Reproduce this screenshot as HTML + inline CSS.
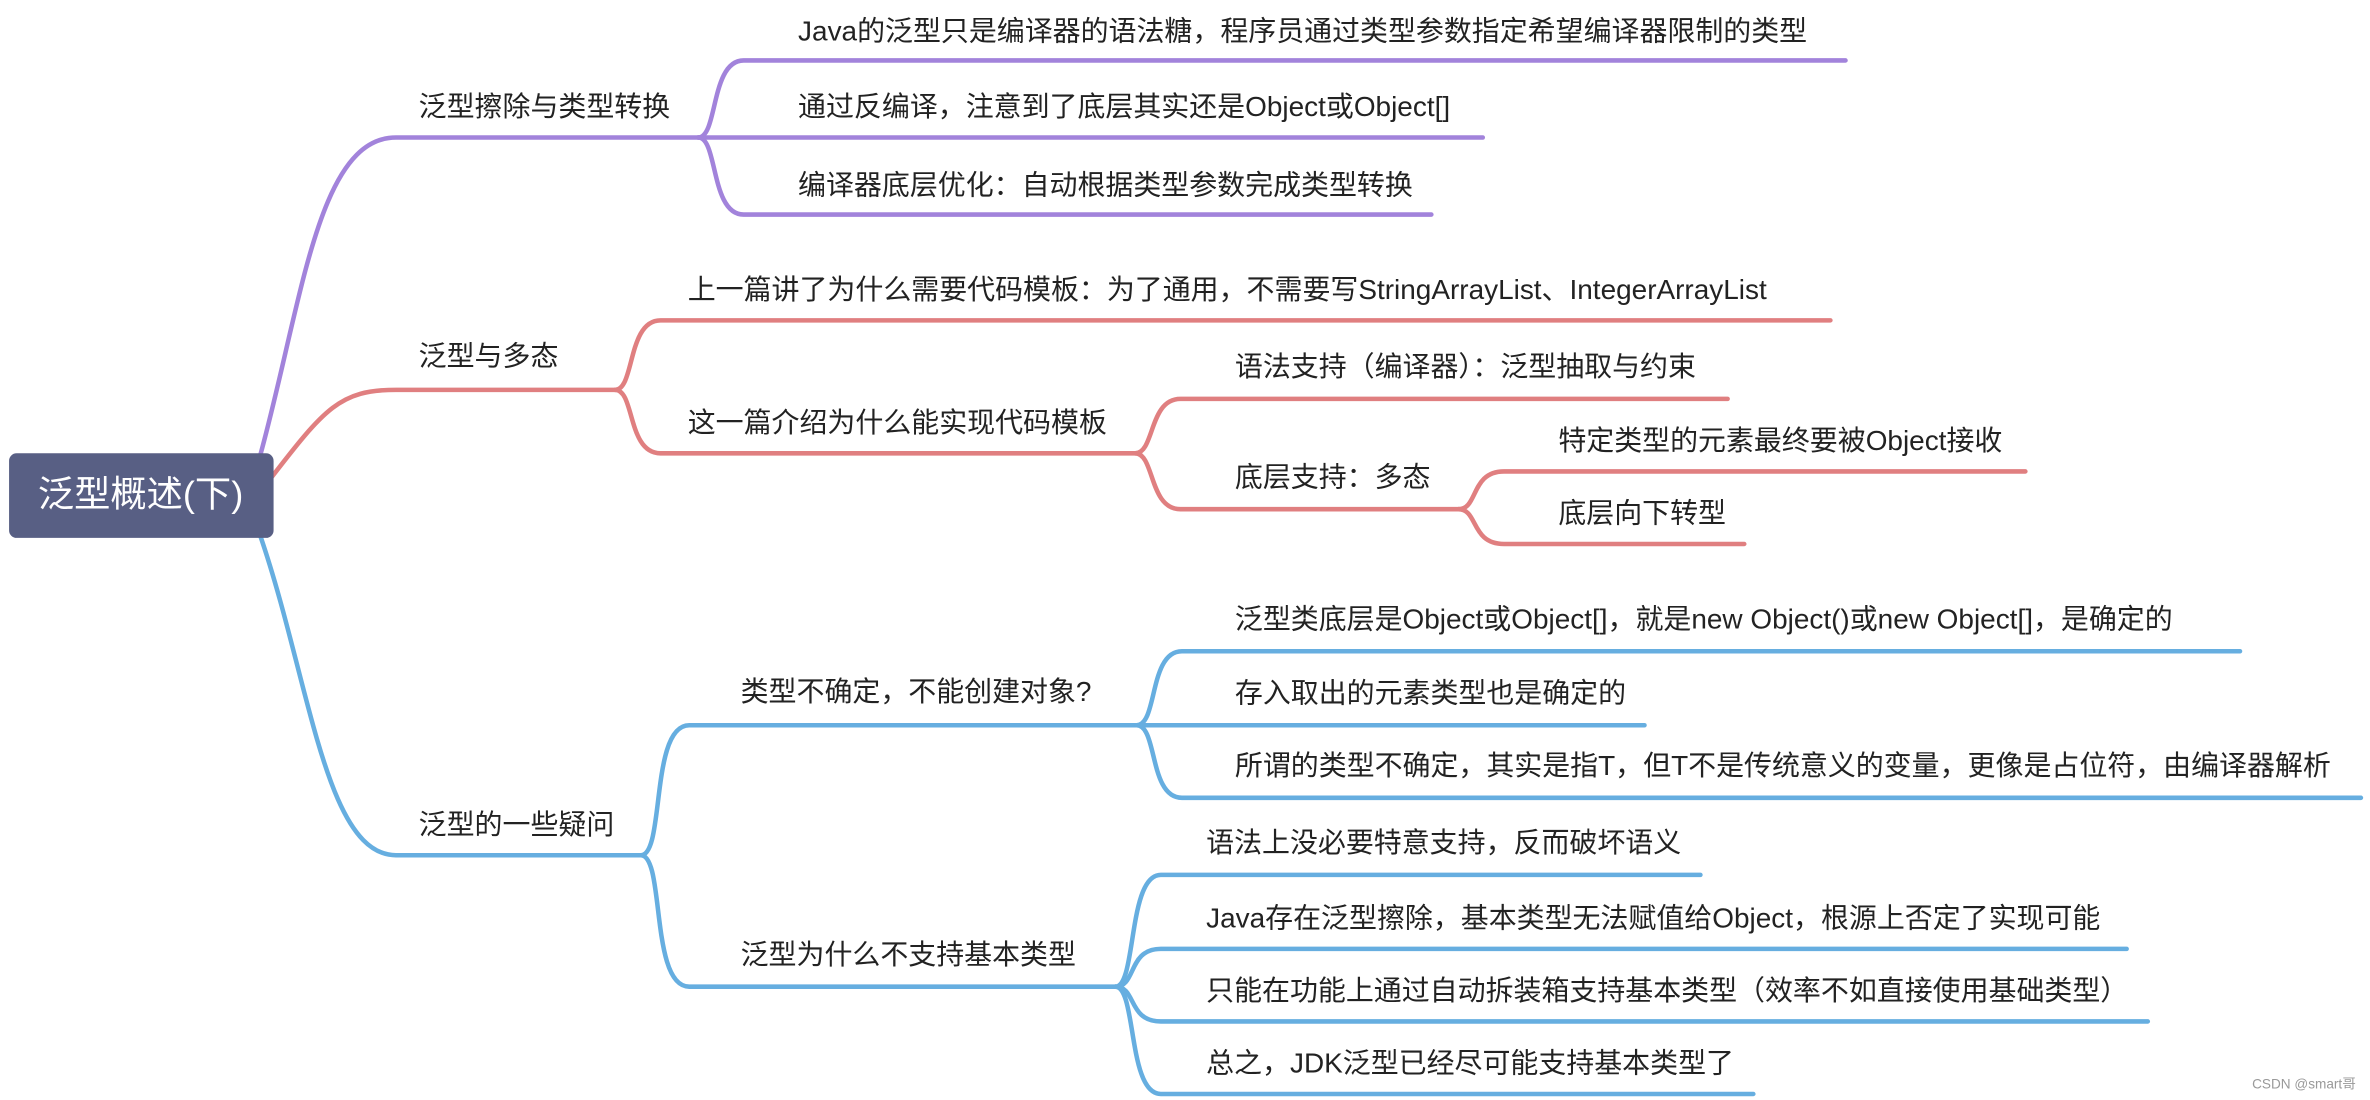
<!DOCTYPE html>
<html><head><meta charset="utf-8"><style>
html,body{margin:0;padding:0;background:#fff;}
svg{display:block;}
text{font-family:"Liberation Sans","Noto Sans CJK SC",sans-serif;font-size:18.5px;fill:#222;dominant-baseline:middle;}
</style></head><body>
<svg width="2370" height="1100" viewBox="0 0 1568 728" preserveAspectRatio="none" xmlns="http://www.w3.org/2000/svg">
<g fill="none" stroke-width="3" stroke-linecap="round">
<g stroke="#a283db">
<path d="M172 302 C200 200 210 91 262 91 L462 91"/>
<path d="M462 91 C475 91 470 40 492 40 L1221 40"/>
<path d="M462 91 L981 91"/>
<path d="M462 91 C475 91 470 142 492 142 L947 142"/>
</g>
<g stroke="#e07f80">
<path d="M178 318 C215 270 225 258 262 258 L407 258"/>
<path d="M407 258 C420 258 415 212 437 212 L1211 212"/>
<path d="M407 258 C420 258 415 300 437 300 L751 300"/>
<path d="M751 300 C764 300 760 264 781 264 L1143 264"/>
<path d="M751 300 C764 300 760 337 781 337 L965 337"/>
<path d="M965 337 C978 337 973 312 995 312 L1340 312"/>
<path d="M965 337 C978 337 973 360 995 360 L1154 360"/>
</g>
<g stroke="#66aee0">
<path d="M172 354 C205 450 215 566 262 566 L424 566"/>
<path d="M424 566 C440 566 430 480 456 480 L752 480"/>
<path d="M424 566 C440 566 430 653 456 653 L738 653"/>
<path d="M752 480 C766 480 760 431 782 431 L1482 431"/>
<path d="M752 480 L1088 480"/>
<path d="M752 480 C766 480 760 528 782 528 L1562 528"/>
<path d="M738 653 C752 653 746 579 768 579 L1125 579"/>
<path d="M738 653 C752 653 746 628 768 628 L1407 628"/>
<path d="M738 653 C752 653 746 676 768 676 L1421 676"/>
<path d="M738 653 C752 653 746 724 768 724 L1160 724"/>
</g>
</g>
<rect x="6" y="300" width="175" height="56" rx="5" fill="#585f84"/>
<text x="93" y="329" text-anchor="middle" style="font-size:24px;fill:#fff">泛型概述(下)</text>

<text x="277" y="72">泛型擦除与类型转换</text>
<text x="528" y="22">Java的泛型只是编译器的语法糖，程序员通过类型参数指定希望编译器限制的类型</text>
<text x="528" y="72">通过反编译，注意到了底层其实还是Object或Object[]</text>
<text x="528" y="124">编译器底层优化：自动根据类型参数完成类型转换</text>

<text x="277" y="237">泛型与多态</text>
<text x="455" y="193">上一篇讲了为什么需要代码模板：为了通用，不需要写StringArrayList、IntegerArrayList</text>
<text x="455" y="281">这一篇介绍为什么能实现代码模板</text>
<text x="817" y="244">语法支持（编译器）：泛型抽取与约束</text>
<text x="817" y="317">底层支持：多态</text>
<text x="1031" y="293">特定类型的元素最终要被Object接收</text>
<text x="1031" y="341">底层向下转型</text>

<text x="277" y="547">泛型的一些疑问</text>
<text x="490" y="459">类型不确定，不能创建对象?</text>
<text x="490" y="633">泛型为什么不支持基本类型</text>
<text x="817" y="411">泛型类底层是Object或Object[]，就是new Object()或new Object[]，是确定的</text>
<text x="817" y="460">存入取出的元素类型也是确定的</text>
<text x="817" y="508">所谓的类型不确定，其实是指T，但T不是传统意义的变量，更像是占位符，由编译器解析</text>
<text x="798" y="559">语法上没必要特意支持，反而破坏语义</text>
<text x="798" y="609">Java存在泛型擦除，基本类型无法赋值给Object，根源上否定了实现可能</text>
<text x="798" y="657">只能在功能上通过自动拆装箱支持基本类型（效率不如直接使用基础类型）</text>
<text x="798" y="705">总之，JDK泛型已经尽可能支持基本类型了</text>
<text x="1490" y="718" style="font-size:9px;fill:#999">CSDN @smart哥</text>
</svg>
</body></html>
